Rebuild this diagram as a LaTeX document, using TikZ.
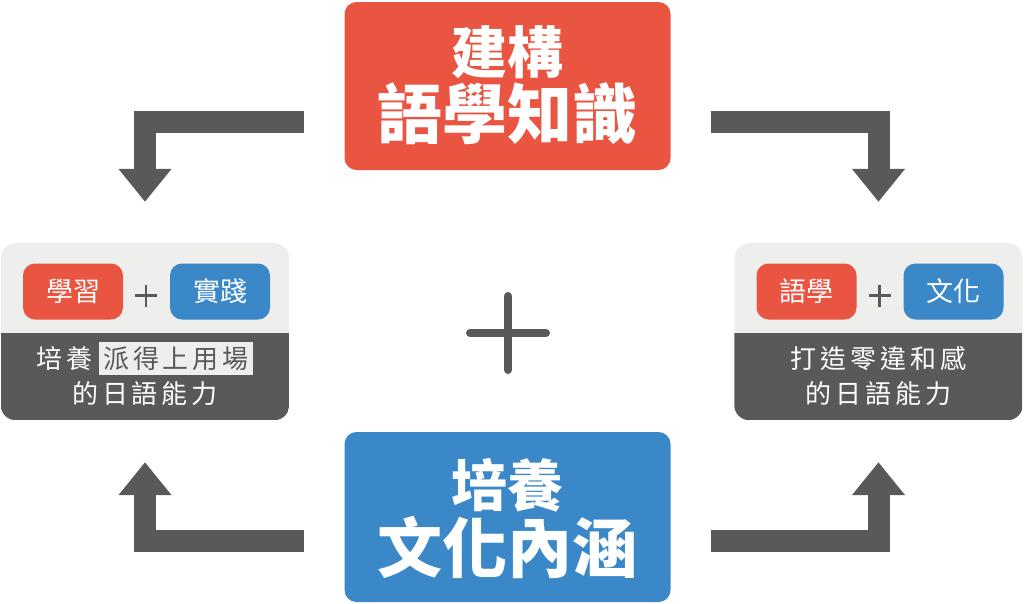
\documentclass[tikz,border=0pt]{standalone}
\usepackage{fontspec}
\setmainfont{Noto Sans CJK TC}
\newfontfamily\cjkfont{Noto Sans CJK TC}
\newfontfamily\cjkspaced[LetterSpace=15]{Noto Sans CJK TC}
\usetikzlibrary{arrows.meta, positioning, calc}
\definecolor{knowred}{RGB}{233, 85, 64}
\definecolor{cultblue}{RGB}{58, 136, 200}
\definecolor{cardgray}{RGB}{91, 89, 87}
\definecolor{cardlight}{RGB}{238, 238, 236}

\tikzset{
  titlebox/.style={rounded corners=12pt, minimum width=326pt, minimum height=168pt, inner sep=0pt},
  titleA/.style={text=white, font=\cjkfont\bfseries\fontsize{56}{60}\selectfont, inner sep=0pt},
  titleB/.style={text=white, font=\cjkfont\bfseries\fontsize{65}{70}\selectfont, inner sep=0pt},
  cardbox/.style={fill=cardlight, rounded corners=15pt, minimum width=288pt, minimum height=177pt, inner sep=0pt},
  pill/.style={rounded corners=12pt, minimum width=100pt, minimum height=56pt, text=white, font=\cjkfont\fontsize{27}{30}\selectfont, inner sep=0pt},
  cardtext/.style={text=white, font=\cjkspaced\fontsize{26}{29}\selectfont, inner sep=0pt},
  flowarrow/.style={draw=cardgray, line width=22pt, line join=miter, -{Triangle[length=33pt, width=51pt]}},
  bigplus/.style={draw=cardgray, line width=8pt, line cap=round},
  smallplus/.style={draw=cardgray, line width=2.5pt},
}

\begin{document}
\begin{tikzpicture}[x=1pt, y=-1pt]
  \useasboundingbox (0,0) rectangle (1024,603);

  % title boxes
  \node[titlebox, fill=knowred] (knowledge) at (507.5,86) {};
  \node[titleA] (knowA) at ([yshift=34pt]knowledge.center) {建構};
  \node[titleB] (knowB) at ([yshift=-28pt]knowledge.center) {語學知識};

  \node[titlebox, fill=cultblue, minimum height=170pt] (culture) at (507.5,517) {};
  \node[titleA] (cultA) at ([yshift=32pt]culture.center) {培養};
  \node[titleB] (cultB) at ([yshift=-30pt]culture.center) {文化內涵};

  % cards
  \foreach \card/\cx/\redtxt/\bluetxt in {leftcard/145/學習/實踐, rightcard/878.5/語學/文化}
  {
    \node[cardbox] (\card) at (\cx,331.5) {};
    \begin{scope}
      \clip[rounded corners=15pt] (\card.south west) rectangle (\card.north east);
      \fill[cardgray] (\card.south west) rectangle ([yshift=87pt]\card.south east);
    \end{scope}
    \node[pill, fill=knowred] (\card-red) at ([xshift=-72pt,yshift=40pt]\card.center) {\redtxt};
    \node[pill, fill=cultblue] (\card-blue) at ([xshift=75pt,yshift=40pt]\card.center) {\bluetxt};
    \draw[smallplus] ([xshift=-10pt,yshift=36pt]\card.center) -- ([xshift=12pt,yshift=36pt]\card.center)
      ([xshift=1pt,yshift=25pt]\card.center) -- ([xshift=1pt,yshift=47pt]\card.center);
  }

  \node[cardtext, fill=cardlight, text=cardgray, minimum height=33pt, inner xsep=4pt] (leftfit) at ([xshift=31pt,yshift=-27pt]leftcard.center) {派得上用場};
  \node[cardtext, left=6pt of leftfit] (leftgoal) {培養};
  \node[cardtext] (leftability) at ([yshift=-62pt]leftcard.center) {的日語能力};
  \node[cardtext] (rightgoal) at ([yshift=-27pt]rightcard.center) {打造零違和感};
  \node[cardtext] (rightability) at ([yshift=-62pt]rightcard.center) {的日語能力};

  % arrows
  \draw[flowarrow, shorten >=41pt] ([xshift=-40pt,yshift=-36pt]knowledge.west) -| (leftcard.north);
  \draw[flowarrow, shorten >=41pt] ([xshift=40pt,yshift=-36pt]knowledge.east) -| (rightcard.north);
  \draw[flowarrow, shorten >=42pt] ([xshift=-40pt,yshift=-24pt]culture.west) -| (leftcard.south);
  \draw[flowarrow, shorten >=42pt] ([xshift=40pt,yshift=-24pt]culture.east) -| (rightcard.south);

  % centre plus
  \draw[bigplus] (470,333) -- (546,333) (508,296) -- (508,370);
\end{tikzpicture}
\end{document}
